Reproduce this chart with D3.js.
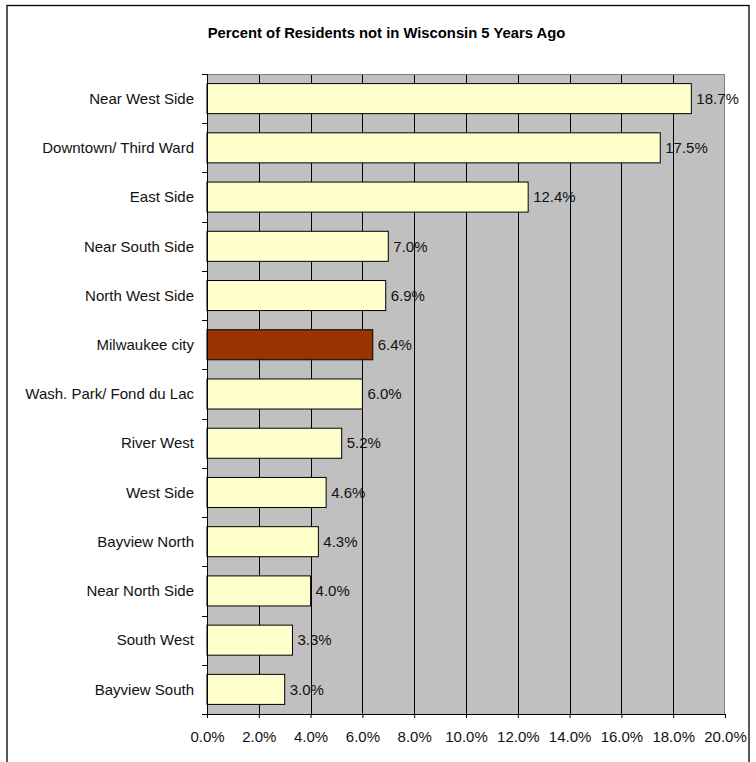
<!DOCTYPE html>
<html>
<head>
<meta charset="utf-8">
<script src="https://cdn.jsdelivr.net/npm/d3@7"></script>
<style>
  body { margin: 0; background: #fff; }
  svg { display: block; font-family: "Liberation Sans", Arial, sans-serif; }
</style>
</head>
<body>
<div id="chart"></div>
<script>
var width = 756, height = 762;
var margin = { top: 74, right: 31, bottom: 48, left: 207 };

var categories = ["Near West Side", "Downtown/ Third Ward", "East Side", "Near South Side",
  "North West Side", "Milwaukee city", "Wash. Park/ Fond du Lac", "River West", "West Side",
  "Bayview North", "Near North Side", "South West", "Bayview South"];
var values = [18.7, 17.5, 12.4, 7.0, 6.9, 6.4, 6.0, 5.2, 4.6, 4.3, 4.0, 3.3, 3.0];
var xTicks = [0, 2, 4, 6, 8, 10, 12, 14, 16, 18, 20];
var highlight = "Milwaukee city";

var svg = d3.select("#chart").append("svg").attr("width", width).attr("height", height);

// outer chart border (bottom runs off the page)
svg.append("rect")
  .attr("x", 7).attr("y", 5.5)
  .attr("width", 742).attr("height", 780)
  .attr("fill", "none").attr("stroke", "#000").attr("stroke-width", 1.3);

svg.append("text")
  .attr("x", 386.5).attr("y", 38)
  .attr("text-anchor", "middle")
  .attr("font-size", "14.8px").attr("font-weight", "bold")
  .text("Percent of Residents not in Wisconsin 5 Years Ago");

var pw = width - margin.left - margin.right;
var ph = height - margin.top - margin.bottom;

var x = d3.scaleLinear().domain([0, 20]).range([0, pw]);
var y = d3.scaleBand().domain(categories).range([0, ph]).paddingInner(0.39).paddingOuter(0.195);

var g = svg.append("g").attr("transform", "translate(" + margin.left + "," + margin.top + ")");

g.append("rect").attr("width", pw).attr("height", ph).attr("fill", "#c0c0c0");

// vertical gridlines
g.selectAll(".grid").data(xTicks.slice(1, -1)).enter().append("line")
  .attr("x1", function (d) { return Math.round(x(d)) + 0.5; })
  .attr("x2", function (d) { return Math.round(x(d)) + 0.5; })
  .attr("y1", 0).attr("y2", ph)
  .attr("stroke", "#000").attr("stroke-width", 1);

// top and right plot border
g.append("path")
  .attr("d", "M0,0.5H" + (pw - 0.5) + "V" + ph)
  .attr("fill", "none").attr("stroke", "#808080").attr("stroke-width", 1);

g.selectAll(".bar").data(values).enter().append("rect")
  .attr("x", 0)
  .attr("y", function (d, i) { return y(categories[i]); })
  .attr("width", function (d) { return x(d); })
  .attr("height", y.bandwidth())
  .attr("fill", function (d, i) { return categories[i] === highlight ? "#993300" : "#ffffcc"; })
  .attr("stroke", "#000").attr("stroke-width", 1);

g.selectAll(".val").data(values).enter().append("text")
  .attr("x", function (d) { return x(d) + 5; })
  .attr("y", function (d, i) { return y(categories[i]) + y.bandwidth() / 2; })
  .attr("dy", "0.35em")
  .attr("font-size", "15px").attr("fill", "#111")
  .text(function (d) { return d.toFixed(1) + "%"; });

// left axis: ticks between categories
var yEdge = d3.scaleLinear().domain([0, categories.length]).range([0, ph]);
g.append("line").attr("x1", 0.5).attr("x2", 0.5).attr("y1", 0).attr("y2", ph + 4)
  .attr("stroke", "#000");
g.selectAll(".ytick").data(d3.range(categories.length + 1)).enter().append("line")
  .attr("x1", -5).attr("x2", 0)
  .attr("y1", function (d) { return Math.round(yEdge(d)) + 0.5; })
  .attr("y2", function (d) { return Math.round(yEdge(d)) + 0.5; })
  .attr("stroke", "#000");
g.selectAll(".ylab").data(categories).enter().append("text")
  .attr("x", -13)
  .attr("y", function (d) { return y(d) + y.bandwidth() / 2; })
  .attr("dy", "0.35em")
  .attr("text-anchor", "end")
  .attr("font-size", "15px").attr("fill", "#111")
  .text(function (d) { return d; });

// bottom axis
var xAxis = g.append("g").attr("transform", "translate(0," + ph + ")")
  .call(d3.axisBottom(x).tickValues(xTicks).tickSize(4).tickPadding(13)
    .tickFormat(function (d) { return d.toFixed(1) + "%"; }));
xAxis.select(".domain").attr("stroke", "#000");
xAxis.selectAll("line").attr("stroke", "#000");
xAxis.selectAll("text").attr("font-size", "15px").attr("fill", "#111")
  .attr("font-family", "\"Liberation Sans\", Arial, sans-serif");
</script>
</body>
</html>
